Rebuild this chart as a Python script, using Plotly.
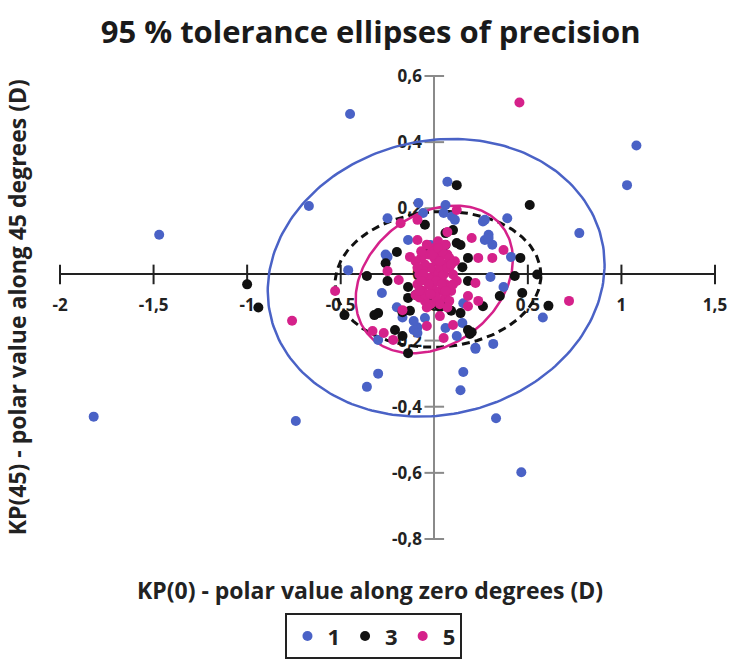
import numpy as np
import plotly.graph_objects as go

# ---------------- data ----------------
x_ticks = [-2, -1.5, -1, -0.5, 0, 0.5, 1, 1.5]
x_tick_text = ["-2", "-1,5", "-1", "-0,5", "0", "0,5", "1", "1,5"]
y_ticks = [-0.8, -0.6, -0.4, -0.2, 0, 0.2, 0.4, 0.6]
y_tick_text = ["-0,8", "-0,6", "-0,4", "-0,2", "0", "0,2", "0,4", "0,6"]

# group 1 (blue)
g1_x = [-1.82, -1.47, -0.45, -0.67, -0.74, 1.08, 1.03, 0.775, 0.465, 0.33, 0.14, 0.155,
        0.315, 0.22, 0.58, 0.39, 0.07, -0.36, -0.30, -0.28,
        -0.085, 0.06, -0.06, 0.095, 0.26, 0.29, 0.31, -0.14, -0.26, -0.46, -0.20, 0.30,
        0.37, -0.17, -0.09, 0.12, -0.25, -0.25, -0.02, 0.05, 0.05, 0.11, 0.27, 0.27,
        0.41, 0.155, 0.06, 0.15, 0.22, -0.11, -0.05, -0.11, -0.09, -0.30, 0.29]
g1_y = [-0.43, 0.12, 0.485, 0.207, -0.443, 0.39, 0.27, 0.125, -0.598, -0.435, -0.35, -0.295,
        -0.21, -0.225, -0.13, 0.17, 0.28, -0.34, -0.30, -0.056,
        0.216, 0.21, 0.186, 0.175, 0.16, 0.12, 0.09, 0.104, 0.06, 0.013, -0.099, -0.008,
        -0.038, -0.13, -0.16, -0.186, 0.17, 0.053, 0.089, 0.065, 0.186, 0.165, 0.165, 0.104,
        0.053, -0.087, -0.162, -0.147, -0.222, -0.141, -0.132, -0.168, -0.177, -0.198, 0.11]

# group 3 (black)
g3_x = [-1.0, -0.94, 0.12, 0.51, 0.61,
        -0.05, 0.06, 0.10, 0.12, 0.06, 0.14, -0.04, -0.20, -0.26, 0.18, 0.15, 0.46,
        -0.36, 0.55, 0.43, 0.47, 0.35, 0.26, 0.18, -0.25, -0.14, -0.07, -0.10, -0.14,
        -0.13, -0.02, 0.03, 0.09, 0.14, -0.17, -0.30, -0.32, -0.48, 0.18, 0.19, 0.20,
        -0.21, -0.17, -0.14, 0.02, 0.04, -0.03, 0.05]
g3_y = [-0.03, -0.10, 0.27, 0.21, -0.095,
        0.15, 0.125, 0.134, 0.095, 0.089, 0.089, 0.074, 0.068, 0.034, 0.05, 0.022, 0.05,
        -0.005, 0.0, -0.005, -0.056, -0.065, -0.096, -0.02, -0.02, -0.038, -0.05, -0.062, -0.071,
        -0.11, -0.093, -0.099, -0.11, -0.117, -0.114, -0.117, -0.123, -0.123, -0.168, -0.18, -0.175,
        -0.168, -0.186, -0.238, 0.06, 0.03, -0.07, -0.08]

# group 5 (magenta)
g5_x = [0.455, 0.72, -0.76, -0.53,
        -0.18, -0.09, 0.12, -0.09, 0.07, 0.20, 0.37, 0.31, 0.235, -0.25, -0.19, -0.13,
        0.02, 0.18, 0.235, 0.18, 0.22, -0.10, -0.17, -0.04, 0.03, 0.10, 0.05, -0.33,
        -0.27, -0.22,
        0.0, 0.02, -0.02, 0.04, -0.04, 0.01, -0.01, 0.05, -0.05, 0.03, -0.03, 0.06,
        -0.06, 0.08, -0.08, 0.0, 0.02, 0.07, -0.07, 0.09, -0.09, 0.10, 0.04, -0.02,
        0.06, -0.05, 0.11, -0.10, 0.0, 0.03, -0.03, 0.01, 0.05, -0.06, 0.02, -0.01,
        0.12, 0.08, -0.08, 0.06,
        -0.07, -0.04, -0.01, 0.02, 0.05, 0.08, -0.09, -0.06, 0.03, 0.07, -0.03, 0.00,
        0.04, -0.07, 0.09, -0.05, 0.01, 0.06, -0.02, 0.10, -0.08, 0.03, -0.04, 0.07]
g5_y = [0.52, -0.08, -0.14, -0.05,
        0.155, 0.165, 0.195, 0.104, 0.128, 0.11, 0.074, 0.05, 0.05, 0.01, -0.017, 0.053,
        0.068, -0.065, -0.08, -0.096, -0.026, -0.062, -0.108, -0.156, -0.126, -0.153, -0.192, -0.171,
        -0.177, -0.198,
        0.0, 0.01, 0.02, -0.01, -0.02, 0.04, -0.04, 0.03, 0.03, -0.05, 0.06, -0.03,
        -0.05, 0.02, 0.0, 0.08, -0.08, 0.06, 0.05, -0.05, -0.03, 0.0, 0.07, -0.09,
        -0.07, -0.08, 0.04, 0.04, 0.05, 0.02, -0.01, -0.02, 0.0, 0.01, 0.10, 0.07,
        -0.02, -0.08, -0.07, 0.09,
        0.07, 0.09, 0.06, 0.08, 0.06, 0.05, 0.02, 0.0, 0.04, 0.02, -0.03, -0.06,
        -0.03, -0.02, 0.03, -0.06, -0.07, -0.05, -0.06, -0.03, -0.05, -0.09, -0.1, -0.1]

# 95% tolerance ellipses: centre x, centre y, half-width, half-height, tilt (shear)
ell_1 = dict(cx=0.01, cy=-0.01, a=0.90, b=0.418, c=0.04)
ell_3 = dict(cx=0.02, cy=-0.015, a=0.55, b=0.205, c=0.012)
ell_5 = dict(cx=0.0, cy=-0.015, a=0.42, b=0.215, c=0.06)

BLUE = "#4a62c6"
BLACK = "#111111"
MAGENTA = "#d5218a"
FONT = "Open Sans"


def ellipse(p, n=241):
    t = np.linspace(0, 2 * np.pi, n)
    return p["cx"] + p["a"] * np.cos(t), p["cy"] + p["b"] * np.sin(t) + p["c"] * np.cos(t)


fig = go.Figure()

# axis tick marks crossing the axis lines
fig.add_trace(go.Scatter(x=x_ticks, y=[0] * len(x_ticks), mode="markers",
                         marker=dict(symbol="line-ns", size=14, line=dict(color="#222", width=2)),
                         showlegend=False, hoverinfo="skip", cliponaxis=False))
fig.add_trace(go.Scatter(x=[0] * len(y_ticks), y=y_ticks, mode="markers",
                         marker=dict(symbol="line-ew", size=14, line=dict(color="#8a8a8a", width=2)),
                         showlegend=False, hoverinfo="skip", cliponaxis=False))

for p, col, dash, w in [(ell_1, BLUE, "solid", 2.5), (ell_3, BLACK, "8px,5px", 3),
                        (ell_5, MAGENTA, "solid", 2.5)]:
    ex, ey = ellipse(p)
    fig.add_trace(go.Scatter(x=ex, y=ey, mode="lines", line=dict(color=col, width=w, dash=dash),
                             showlegend=False, hoverinfo="skip"))

for name, xs, ys, col in [("1", g1_x, g1_y, BLUE), ("3", g3_x, g3_y, BLACK), ("5", g5_x, g5_y, MAGENTA)]:
    fig.add_trace(go.Scatter(x=xs, y=ys, mode="markers", name=name,
                             marker=dict(color=col, size=10), cliponaxis=False))

tickfont = dict(family=FONT, size=17, color="#222", weight="bold")
fig.update_layout(
    width=734, height=663,
    margin=dict(l=60, r=19, t=76, b=124, autoexpand=False),
    paper_bgcolor="white", plot_bgcolor="white",
    title=dict(text="95 % tolerance ellipses of precision", x=0.505, xanchor="center",
               y=0.951, yanchor="middle",
               font=dict(family=FONT, size=31, color="#1a1a1a", weight="bold")),
    xaxis=dict(range=[-2, 1.5], anchor="free", position=0.8 / 1.4, showline=True,
               linecolor="#222", linewidth=2, showgrid=False, zeroline=False, ticks="",
               tickmode="array", tickvals=x_ticks, ticktext=x_tick_text, tickfont=tickfont,
               ticklabelstandoff=15, layer="below traces", fixedrange=True, automargin=False),
    yaxis=dict(range=[-0.8, 0.6], anchor="free", position=2 / 3.5, showline=True,
               linecolor="#8a8a8a", linewidth=2, showgrid=False, zeroline=False, ticks="",
               tickmode="array", tickvals=y_ticks, ticktext=y_tick_text, tickfont=tickfont,
               ticklabelstandoff=8, layer="below traces", fixedrange=True, automargin=False),
    legend=dict(orientation="h", xref="container", yref="container",
                x=0.5095, xanchor="center", y=0.075, yanchor="top",
                bordercolor="#222", borderwidth=2,
                font=dict(family=FONT, size=22, color="#222", weight="bold")),
    annotations=[
        dict(text="KP(45) - polar value along 45 degrees (D)", xref="paper", yref="paper",
             x=-0.066, y=0.5, xanchor="center", yanchor="middle", textangle=-90, showarrow=False,
             font=dict(family=FONT, size=23, color="#222", weight="bold")),
        dict(text="KP(0) - polar value along zero degrees (D)", xref="paper", yref="paper",
             x=0.474, y=-0.110, xanchor="center", yanchor="middle", showarrow=False,
             font=dict(family=FONT, size=23, color="#222", weight="bold")),
    ],
)

fig.write_html("out.html")
